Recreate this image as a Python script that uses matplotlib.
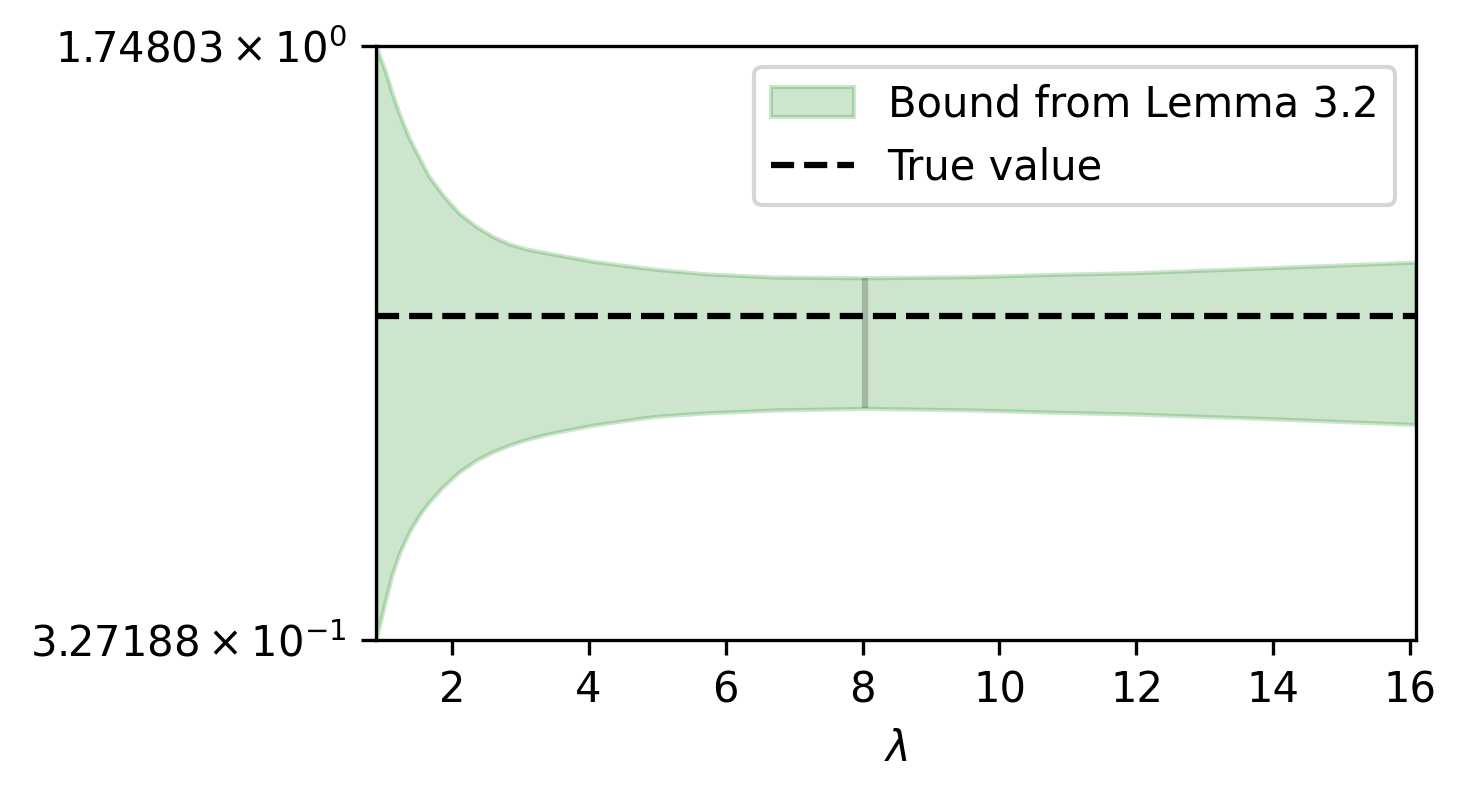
import numpy as np
import matplotlib
matplotlib.use("Agg")
import matplotlib.pyplot as plt
from matplotlib.ticker import NullLocator

# ──────────────────────────────────────────────
# DATI
# ──────────────────────────────────────────────
lambdas = np.array([0.894, 1.03, 1.13, 1.24, 1.38, 1.53, 1.67, 1.87, 2.11,
                    2.36, 2.6, 2.84, 3.09, 3.33, 3.57, 4.07, 4.75, 5.04,
                    5.73, 6.7, 8.04, 9.62, 10.84, 11.96, 13.91, 16.08])
upper_bound = np.array([1.74803, 1.627, 1.529, 1.440, 1.347, 1.273, 1.209,
                        1.148, 1.090, 1.050, 1.021, 1.000, 0.986, 0.977,
                        0.969, 0.952, 0.936, 0.930, 0.919, 0.911, 0.909,
                        0.912, 0.918, 0.922, 0.935, 0.950])
lower_bound = np.array([0.327188, 0.3655, 0.394, 0.419, 0.444, 0.466, 0.483,
                        0.504, 0.526, 0.5435, 0.5565, 0.567, 0.576, 0.583,
                        0.589, 0.600, 0.6115, 0.6155, 0.621, 0.626, 0.629,
                        0.626, 0.622, 0.619, 0.611, 0.601])
true_value = 0.816
best_lambda = 8.04

# ──────────────────────────────────────────────
# GRAFICO
# ──────────────────────────────────────────────
fig, ax = plt.subplots(figsize=(1466 / 300, 800 / 300), dpi=300)
fig.subplots_adjust(left=0.2565, right=0.9657, bottom=0.2, top=0.9425)

ax.fill_between(lambdas, lower_bound, upper_bound, color="green", alpha=0.2,
                label="Bound from Lemma 3.2")
ax.axhline(true_value, color="k", linestyle="--", linewidth=1.5,
           label="True value")

# linea verticale sul lambda migliore
i_best = np.argmin(np.abs(lambdas - best_lambda))
ax.vlines(lambdas[i_best], lower_bound[i_best], upper_bound[i_best],
          color="k", alpha=0.2, linewidth=1.5)

ax.set_yscale("log")
ymin, ymax = lower_bound.min(), upper_bound.max()
ax.set_ylim(ymin, ymax)
ax.set_yticks([ymin, ymax])
ax.yaxis.set_minor_locator(NullLocator())
ax.set_xlim(lambdas[0], lambdas[-1])
ax.set_xlabel(r"$\lambda$")
ax.legend(loc="upper right")

plt.savefig("out.png", dpi=300)
